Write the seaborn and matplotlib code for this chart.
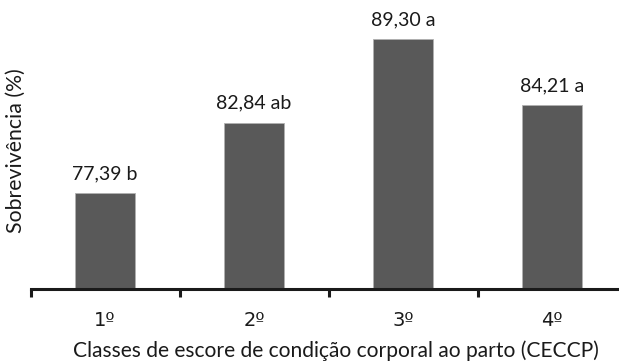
import matplotlib
matplotlib.use("Agg")
import matplotlib.pyplot as plt
import seaborn as sns
import pandas as pd

# Survival by body condition score class at calving
classes = ["1º", "2º", "3º", "4º"]
survival = [77.39, 82.84, 89.30, 84.21]
letters = ["b", "ab", "a", "a"]

sns.set_theme(style="white")
plt.rcParams["font.family"] = ["Lato", "DejaVu Sans"]

df = pd.DataFrame({"classe": classes, "sobrevivencia": survival})

W, H = 619, 362
fig = plt.figure(figsize=(W / 100, H / 100), dpi=100)
ax_left, ax_right = 30.5 / W, 626.5 / W
ax_bottom, ax_top = 1 - 289 / H, 1 - 30.4 / H
ax = fig.add_axes([ax_left, ax_bottom, ax_right - ax_left, ax_top - ax_bottom])

sns.barplot(data=df, x="classe", y="sobrevivencia", color="#595959",
            width=0.405, edgecolor="#b0b0b0", linewidth=0.6,
            saturation=1, ax=ax)

ax.set_xlim(-0.5, 3.5)
ax.set_ylim(70, 90)
ax.set_yticks([])
for side in ["top", "right", "left"]:
    ax.spines[side].set_visible(False)
ax.spines["bottom"].set_linewidth(2.2)
ax.spines["bottom"].set_color("#1a1a1a")

# category ticks sit between the bars
ax.set_xticks([-0.5, 0.5, 1.5, 2.5, 3.5])
ax.set_xticklabels([])
ax.set_xticks(range(len(classes)), minor=True)
ax.set_xticklabels(classes, minor=True, fontsize=14, color="#1a1a1a",
                   family=["DejaVu Sans"])
ax.tick_params(axis="x", which="major", direction="out", length=6, width=2.2,
               color="#1a1a1a", bottom=True)
ax.tick_params(axis="x", which="minor", length=0, pad=16)

ax.set_xlabel("")
ax.set_ylabel("")

for i, (v, l) in enumerate(zip(survival, letters)):
    txt = f"{v:.2f}".replace(".", ",") + " " + l
    ax.annotate(txt, (i, v), xytext=(0, 8), textcoords="offset points",
                ha="center", va="bottom", fontsize=14, color="#1a1a1a",
                annotation_clip=False)

fig.text(336 / W, 1 - 351 / H,
         "Classes de escore de condição corporal ao parto (CECCP)",
         ha="center", va="center", fontsize=15.1, color="#1a1a1a")
fig.text(16 / W, 1 - 151 / H, "Sobrevivência (%)", rotation=90,
         ha="center", va="center", fontsize=15.3, color="#1a1a1a")

fig.savefig("out.png", dpi=100)
